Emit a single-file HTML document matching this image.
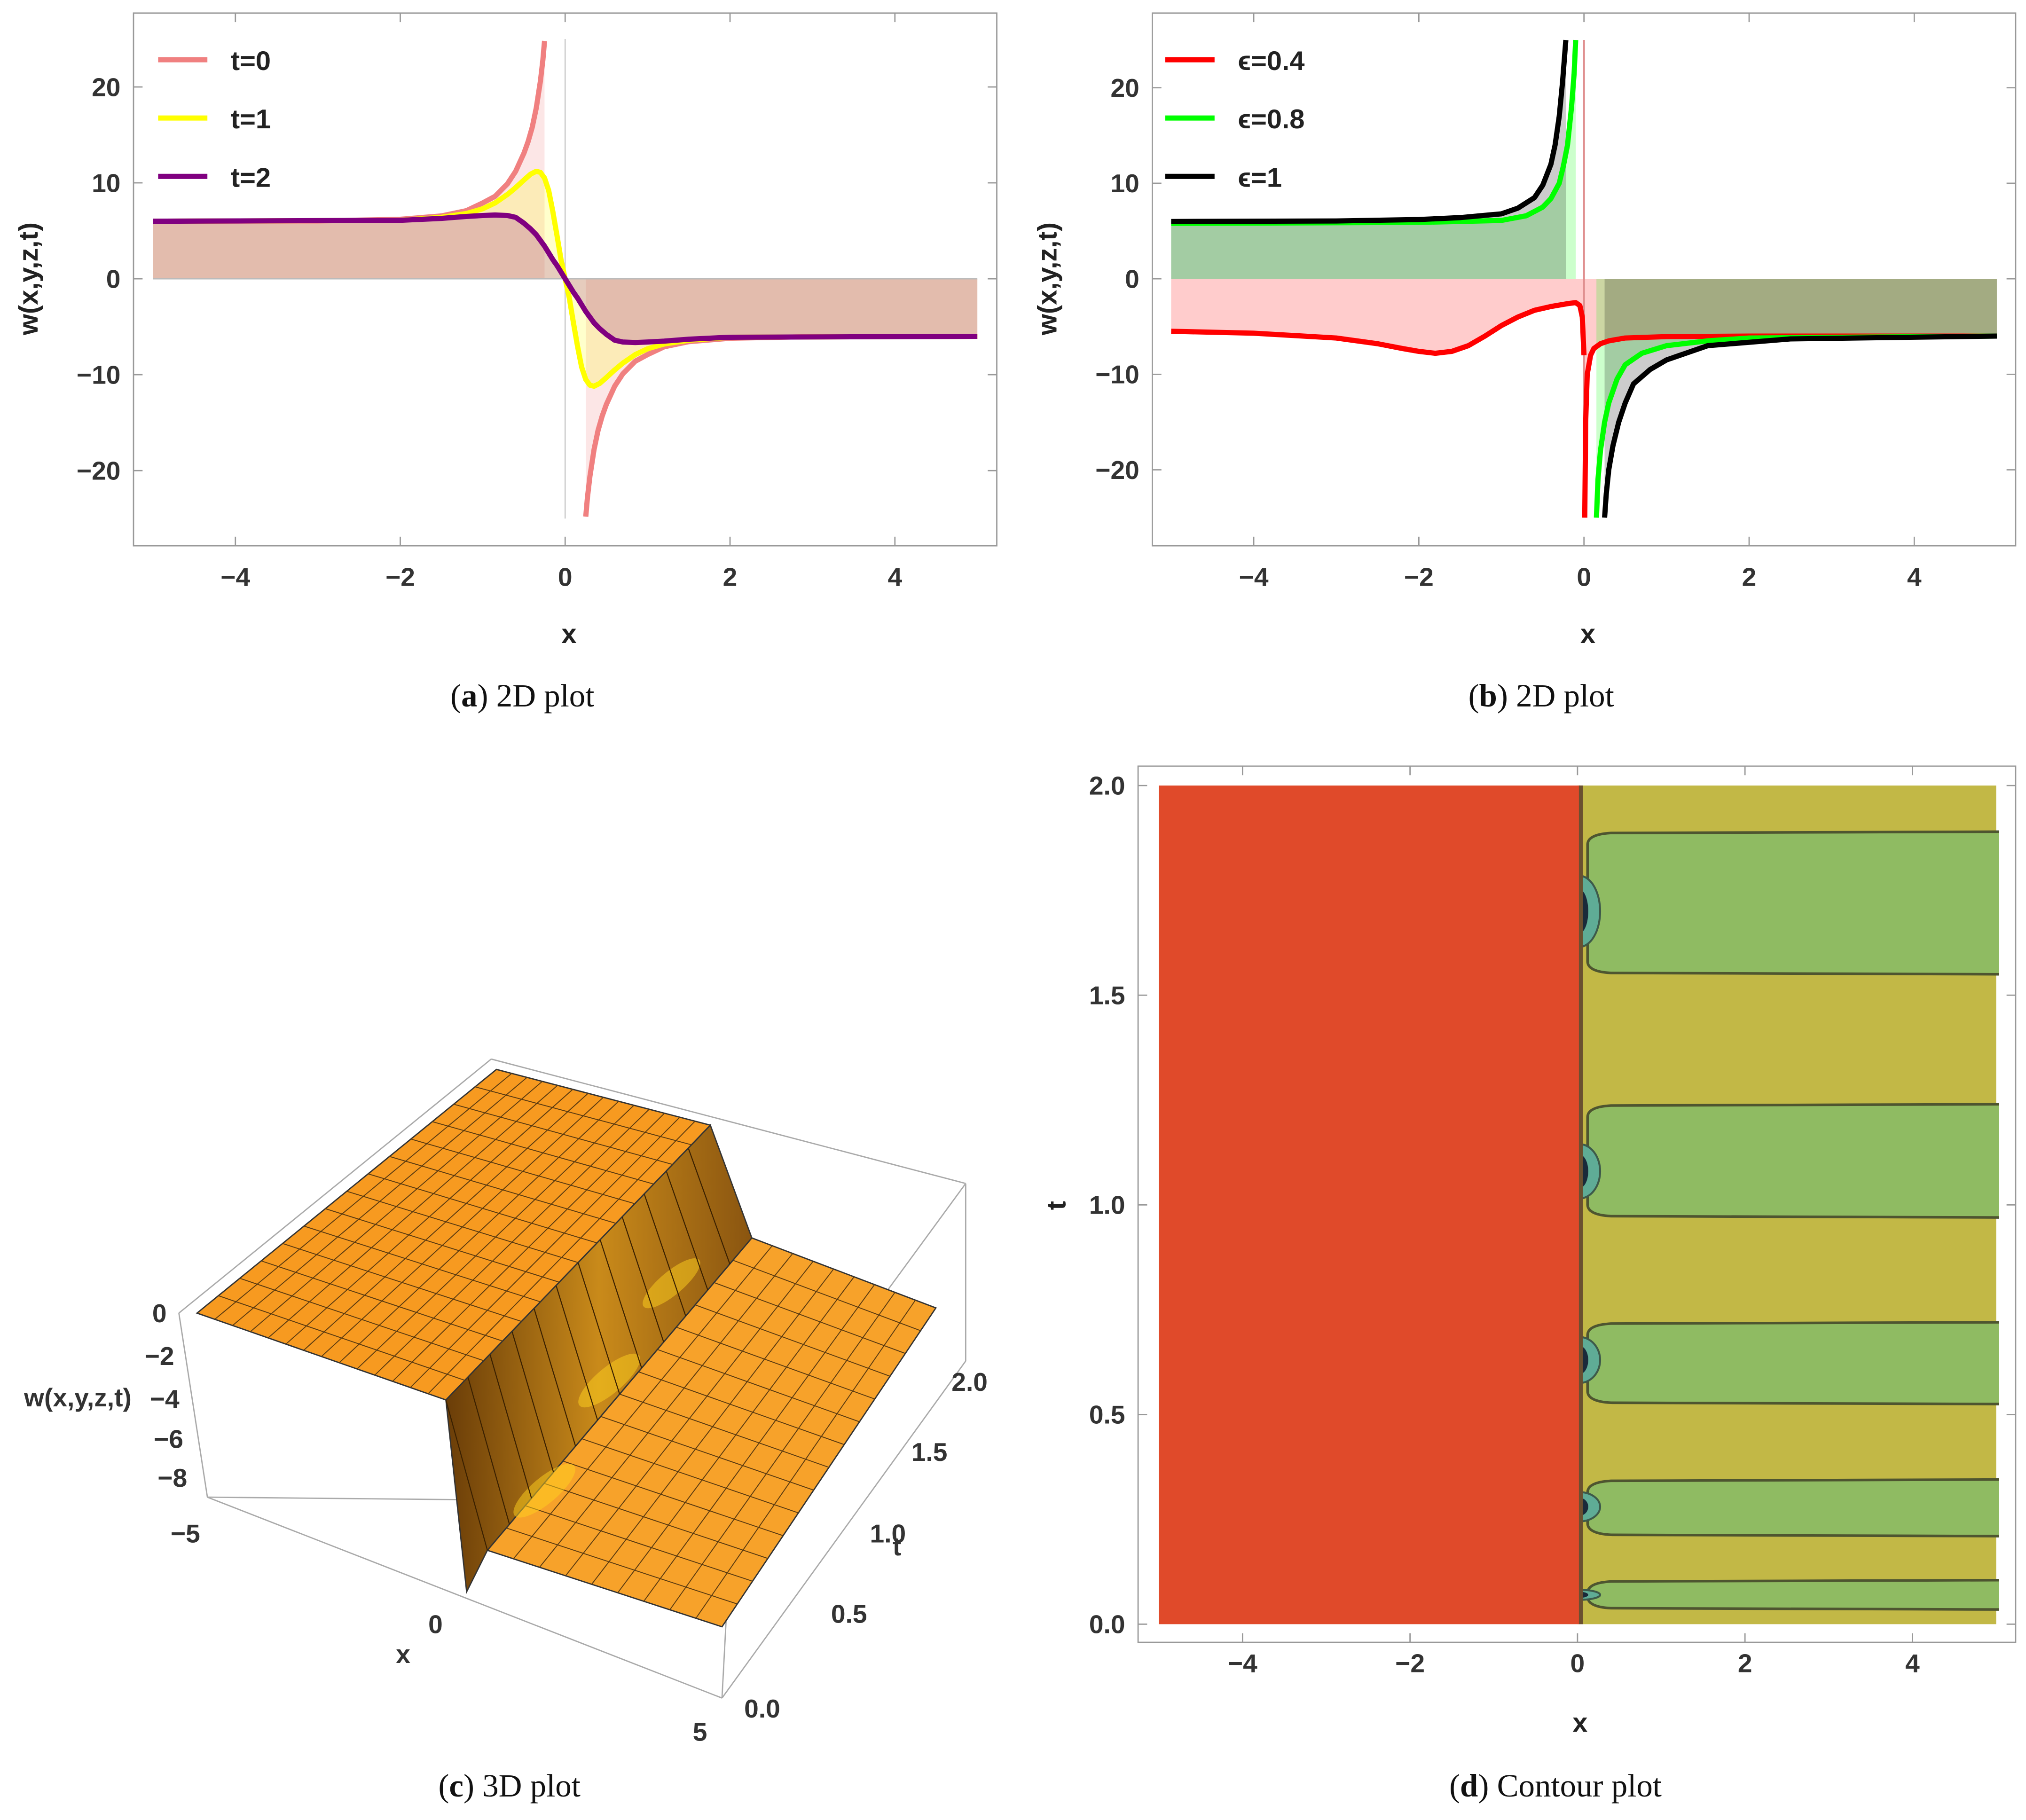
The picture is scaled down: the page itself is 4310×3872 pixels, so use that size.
<!DOCTYPE html>
<html><head><meta charset="utf-8"><style>
html,body{margin:0;padding:0;background:#fff}
svg{display:block}
text{font-family:"Liberation Sans",sans-serif}
.tk{font-size:20px;font-weight:bold;fill:#333}
.lab{font-size:21px;font-weight:bold;fill:#222}
.cap{font-family:"Liberation Serif",serif;font-size:25px;fill:#111}
</style></head><body>
<svg id="root" width="4310" height="3872" viewBox="0 0 1563 1404" xmlns="http://www.w3.org/2000/svg">
<g id="pa"></g>
<g id="pb"></g>
<g id="pc"></g>
<g id="pd"></g>
</svg>
<script>
// ---- Panel (a) data ----
const aXL=[-5,-3,-2,-1.5,-1.2,-1,-0.85,-0.7,-0.6,-0.5,-0.45,-0.4,-0.35,-0.3,-0.27,-0.25];
const aT0L=[6,6.03,6.2,6.55,7.1,7.9,8.6,9.9,11.2,13.1,14.3,15.8,17.8,20.6,22.8,24.8];
const aXR=[0.25,0.27,0.3,0.35,0.4,0.45,0.5,0.6,0.7,0.85,1,1.2,1.5,2,3,5];
const aT0R=[-24.8,-22.8,-20.6,-17.8,-15.8,-14.3,-13.1,-11.2,-9.9,-8.6,-7.9,-7.1,-6.55,-6.2,-6.03,-6];
const aX=[-5,-2,-1.5,-1.2,-1,-0.85,-0.7,-0.6,-0.5,-0.42,-0.35,-0.3,-0.25,-0.2,-0.15,-0.1,-0.05,0,0.05,0.1,0.15,0.2,0.25,0.3,0.35,0.42,0.5,0.6,0.7,0.85,1,1.2,1.5,2,5];
const aT1=[6,6.1,6.4,6.8,7.3,7.9,8.8,9.5,10.3,10.9,11.2,11.1,10.5,9.2,7,4.6,2,0,-2,-4.6,-7,-9.2,-10.5,-11.1,-11.2,-10.9,-10.3,-9.5,-8.8,-7.9,-7.3,-6.8,-6.4,-6.1,-6];
const aT2=[6,6.1,6.3,6.5,6.6,6.65,6.6,6.4,5.8,5.2,4.6,4.0,3.4,2.7,2,1.4,0.7,0,-0.7,-1.4,-2,-2.7,-3.4,-4.0,-4.6,-5.2,-5.8,-6.4,-6.6,-6.65,-6.6,-6.5,-6.3,-6.1,-6];
const aXTicks=[-4,-2,0,2,4];
const aYTicks=[-20,-10,0,10,20];
// ---- Panel (b) data ----
const bXBL=[-5,-3,-2,-1.5,-1,-0.8,-0.6,-0.5,-0.4,-0.35,-0.3,-0.26,-0.22];
const bBL=[6,6.05,6.2,6.4,6.8,7.4,8.5,9.8,12,14,17,20.5,25];
const bXBR=[0.25,0.27,0.3,0.35,0.42,0.5,0.6,0.8,1,1.5,2.5,5];
const bBR=[-25,-22.5,-20,-17.5,-15,-13,-11,-9.5,-8.5,-7,-6.3,-6];
const bXGL=[-5,-2,-1,-0.7,-0.5,-0.4,-0.3,-0.25,-0.2,-0.15,-0.12,-0.1];
const bGL=[5.8,5.9,6.1,6.6,7.5,8.4,10,11.8,14,18,21.5,25];
const bXGR=[0.15,0.17,0.2,0.25,0.3,0.4,0.5,0.7,1,1.5,2,5];
const bGR=[-25,-21,-18,-15,-13,-10.5,-9,-7.8,-7,-6.5,-6.2,-6];
const bXRL=[-5,-4,-3,-2.5,-2.2,-2,-1.8,-1.6,-1.4,-1.2,-1,-0.8,-0.6,-0.4,-0.2,-0.1,-0.05,-0.02,0];
const bRL=[-5.5,-5.7,-6.2,-6.8,-7.3,-7.6,-7.8,-7.6,-7,-6,-4.9,-4,-3.3,-2.9,-2.6,-2.5,-2.8,-4,-8];
const bXRR=[0.01,0.02,0.04,0.08,0.12,0.2,0.3,0.5,1,2,5];
const bRR=[-25,-15,-10,-8,-7.3,-6.8,-6.5,-6.2,-6.05,-6,-6];
// ---- Panel (d) data: green bands (t ranges) & blobs ----
const dBandLo=[1.55,0.97,0.525,0.21,0.035];
const dBandHi=[1.89,1.24,0.72,0.345,0.105];
const dBlobT=[1.7,1.08,0.63,0.28,0.07];
const dBlobR=[0.085,0.065,0.055,0.035,0.012];
const dXTicks=[-4,-2,0,2,4];
const dYTicks=[0,0.5,1,1.5,2];

const NS="http://www.w3.org/2000/svg";
function mk(parent,tag,attrs,txt){const e=document.createElementNS(NS,tag);for(const k in attrs)e.setAttribute(k,attrs[k]);if(txt!==undefined)e.textContent=txt;parent.appendChild(e);return e;}
function pts(xs,ys,sx,sy){return xs.map((x,i)=>sx(x).toFixed(1)+","+sy(ys[i]).toFixed(1)).join(" ");}

function panel2D(g,L,R,T,B,sx,sy,xt,yt,capLetter,capText){
  let f=mk(g,'rect',{x:L,y:T,width:R-L,height:B-T,fill:'none',stroke:'#999','stroke-width':1});
  
  xt.forEach(v=>{let x=sx(v);
    mk(g,'line',{x1:x,y1:B,x2:x,y2:B-7,stroke:'#999'});mk(g,'line',{x1:x,y1:T,x2:x,y2:T+7,stroke:'#999'});
    let t=mk(g,'text',{x:x,y:B+31,'text-anchor':'middle',class:'tk'},v<0?'\u2212'+(-v):String(v));
    });
  yt.forEach(v=>{let y=sy(v);
    mk(g,'line',{x1:L,y1:y,x2:L+7,y2:y,stroke:'#999'});mk(g,'line',{x1:R,y1:y,x2:R-7,y2:y,stroke:'#999'});
    let t=mk(g,'text',{x:L-10,y:y+7,'text-anchor':'end',class:'tk'},v<0?'\u2212'+(-v):String(v));
    });
  let xl=mk(g,'text',{x:(L+R)/2+3,y:B+75,'text-anchor':'middle',class:'lab'},'x');
  
  let yl=mk(g,'text',{x:0,y:0,'text-anchor':'middle',class:'lab',transform:`translate(${L-74},${sy(0)}) rotate(-90)`},'w(x,y,z,t)');
  
  let c=mk(g,'text',{x:(L+R)/2-33,y:B+124,'text-anchor':'middle',class:'cap'});
  
  mk(c,'tspan',{},'(');mk(c,'tspan',{'font-weight':'bold'},capLetter);mk(c,'tspan',{},') '+capText);
}
function series(g,xs,ys,sx,sy,color,name,fillOp){
  let fp=sx(xs[0]).toFixed(1)+","+sy(0)+" "+pts(xs,ys,sx,sy)+" "+sx(xs[xs.length-1]).toFixed(1)+","+sy(0);
  let f=mk(g,'polygon',{points:fp,fill:color,'fill-opacity':fillOp,stroke:'none'});
  
}
function line(g,xs,ys,sx,sy,color,name){
  let l=mk(g,'polyline',{points:pts(xs,ys,sx,sy),fill:'none',stroke:color,'stroke-width':4,'stroke-linejoin':'round'});
  
}
function legend(g,x,y,color,label,name){
  let lg=mk(g,'g',{});
  
  mk(lg,'line',{x1:x,y1:y,x2:x+38,y2:y,stroke:color,'stroke-width':4});
  mk(lg,'text',{x:x+56,y:y+8,class:'lab'},label);
}

// Panel a
(function(){
  const g=document.getElementById('pa');
  const sx=x=>436+x*63.6, sy=y=>215-y*7.4;
  series(g,aXL,aT0L,sx,sy,'#f08080','t0-left',0.2);
  series(g,aXR,aT0R,sx,sy,'#f08080','t0-right',0.2);
  series(g,aX,aT1,sx,sy,'#ffff00','t1',0.2);
  series(g,aX,aT2,sx,sy,'#800080','t2',0.2);
  mk(g,'line',{x1:sx(0),y1:sy(25),x2:sx(0),y2:sy(-25),stroke:'#ccc','stroke-width':1});
  mk(g,'line',{x1:sx(-5),y1:sy(0),x2:sx(5),y2:sy(0),stroke:'#bbb','stroke-width':1});
  line(g,aXL,aT0L,sx,sy,'#f08080','line-t0-left');
  line(g,aXR,aT0R,sx,sy,'#f08080','line-t0-right');
  line(g,aX,aT1,sx,sy,'#ffff00','line-t1');
  line(g,aX,aT2,sx,sy,'#800080','line-t2');
  panel2D(g,103,769,10,421,sx,sy,aXTicks,aYTicks,'a','2D plot');
  legend(g,122,46,'#f08080','t=0','legend-t0');
  legend(g,122,91,'#ffff00','t=1','legend-t1');
  legend(g,122,136,'#800080','t=2','legend-t2');
})();

// Panel b
(function(){
  const g=document.getElementById('pb');
  const sx=x=>1222+x*63.7, sy=y=>215-y*7.37;
  series(g,bXRL,bRL,sx,sy,'#ff0000','eps04-left',0.2);
  series(g,bXRR,bRR,sx,sy,'#ff0000','eps04-right',0.2);
  series(g,bXGL,bGL,sx,sy,'#00ff00','eps08-left',0.2);
  series(g,bXGR,bGR,sx,sy,'#00ff00','eps08-right',0.2);
  series(g,bXBL,bBL,sx,sy,'#000000','eps1-left',0.2);
  series(g,bXBR,bBR,sx,sy,'#000000','eps1-right',0.2);
  mk(g,'line',{x1:sx(0),y1:sy(25),x2:sx(0),y2:sy(-25),stroke:'#e09090','stroke-width':1.5});
  line(g,bXRL,bRL,sx,sy,'#ff0000','line-eps04-left');
  line(g,bXRR,bRR,sx,sy,'#ff0000','line-eps04-right');
  line(g,bXGL,bGL,sx,sy,'#00ff00','line-eps08-left');
  line(g,bXGR,bGR,sx,sy,'#00ff00','line-eps08-right');
  line(g,bXBL,bBL,sx,sy,'#000000','line-eps1-left');
  line(g,bXBR,bBR,sx,sy,'#000000','line-eps1-right');
  panel2D(g,889,1555,10,421,sx,sy,aXTicks,aYTicks,'b','2D plot');
  legend(g,899,46,'#ff0000','\u03f5=0.4','legend-eps04');
  legend(g,899,91,'#00ff00','\u03f5=0.8','legend-eps08');
  legend(g,899,136,'#000000','\u03f5=1','legend-eps1');
})();

// Panel d
(function(){
  const g=document.getElementById('pd');
  const sx=x=>1217+x*64.6, sy=t=>1253-t*323.5;
  mk(g,'rect',{x:878,y:591,width:677,height:676,fill:'none',stroke:'#999'});
  let bg=mk(g,'rect',{x:sx(0),y:sy(2),width:sx(5)-sx(0),height:sy(0)-sy(2),fill:'#c2b846'});
  
  dBandLo.forEach((lo,i)=>{
    const hi=dBandHi[i];
    let r=mk(g,'path',{d:`M${sx(5)+2},${sy(hi)} L${sx(0.4)},${sy(hi)+1} Q${sx(0.12)},${sy(hi)+2} ${sx(0.12)},${sy(hi)+10} L${sx(0.12)},${sy(lo)-10} Q${sx(0.12)},${sy(lo)-2} ${sx(0.4)},${sy(lo)-1} L${sx(5)+2},${sy(lo)}`,fill:'#8fbb62',stroke:'#4e5530','stroke-width':2});
    
  });
  dBlobT.forEach((t,i)=>{
    let e=mk(g,'ellipse',{cx:sx(0.02),cy:sy(t),rx:sx(0.25)-sx(0),ry:dBlobR[i]*323.5,fill:'#5fac96',stroke:'#3d5a4a','stroke-width':1.5});
    
    mk(g,'ellipse',{cx:sx(0.02),cy:sy(t),rx:7,ry:dBlobR[i]*200,fill:'#1a2a3a'});
  });
  let red=mk(g,'rect',{x:sx(-5),y:sy(2),width:sx(0.03)-sx(-5),height:sy(0)-sy(2),fill:'#e04a2a'});
  
  mk(g,'line',{x1:sx(0.04),y1:sy(2),x2:sx(0.04),y2:sy(0),stroke:'#6a5030','stroke-width':3});
  dXTicks.forEach(v=>{let x=sx(v);
    mk(g,'line',{x1:x,y1:1267,x2:x,y2:1260,stroke:'#999'});mk(g,'line',{x1:x,y1:591,x2:x,y2:598,stroke:'#999'});
    let t=mk(g,'text',{x:x,y:1290,'text-anchor':'middle',class:'tk'},v<0?'\u2212'+(-v):String(v));
    });
  dYTicks.forEach(v=>{let y=sy(v);
    mk(g,'line',{x1:878,y1:y,x2:885,y2:y,stroke:'#999'});mk(g,'line',{x1:1555,y1:y,x2:1548,y2:y,stroke:'#999'});
    let t=mk(g,'text',{x:868,y:y+7,'text-anchor':'end',class:'tk'},v.toFixed(1));
    });
  let xl=mk(g,'text',{x:1219,y:1336,'text-anchor':'middle',class:'lab'},'x');
  
  let yl=mk(g,'text',{x:0,y:0,'text-anchor':'middle',class:'lab',transform:'translate(822,930) rotate(-90)'},'t');
  
  let c=mk(g,'text',{x:1200,y:1386,'text-anchor':'middle',class:'cap'});
  
  mk(c,'tspan',{},'(');mk(c,'tspan',{'font-weight':'bold'},'d');mk(c,'tspan',{},') Contour plot');
})();

// Panel c (3D surface, drawn schematically)
(function(){
  const g=document.getElementById('pc');
  const defs=mk(g,'defs',{});
  const gr=mk(defs,'linearGradient',{id:'cliff',x1:0,y1:0,x2:1,y2:0});
  mk(gr,'stop',{offset:0,'stop-color':'#6a3d08'});mk(gr,'stop',{offset:0.5,'stop-color':'#c98a1a'});mk(gr,'stop',{offset:1,'stop-color':'#8a5510'});
  const box=(a,b)=>mk(g,'line',{x1:a[0],y1:a[1],x2:b[0],y2:b[1],stroke:'#aaa','stroke-width':1});
  box([160,1155],[565,1159]);box([565,1159],[745,913]);box([565,1159],[557,1310]);
  box([138,1013],[160,1155]);box([160,1155],[557,1310]);box([557,1310],[745,1050]);box([745,913],[745,1050]);
  box([138,1013],[379,817]);box([379,817],[745,913]);
  const bil=(P,u,v)=>[P[0][0]*(1-u)*(1-v)+P[1][0]*u*(1-v)+P[2][0]*u*v+P[3][0]*(1-u)*v, P[0][1]*(1-u)*(1-v)+P[1][1]*u*(1-v)+P[2][1]*u*v+P[3][1]*(1-u)*v];
  function surf(P,fill,nu,nv,name){
    let p=mk(g,'polygon',{points:P.map(q=>q.join(',')).join(' '),fill:fill,stroke:'#333','stroke-width':1});
    
    for(let i=1;i<nu;i++){let a=bil(P,i/nu,0),b=bil(P,i/nu,1);mk(g,'line',{x1:a[0],y1:a[1],x2:b[0],y2:b[1],stroke:'#5a3a10','stroke-width':0.7});}
    for(let j=1;j<nv;j++){let a=bil(P,0,j/nv),b=bil(P,1,j/nv);mk(g,'line',{x1:a[0],y1:a[1],x2:b[0],y2:b[1],stroke:'#5a3a10','stroke-width':0.7});}
  }
  surf([[376,1196],[557,1255],[722,1009],[580,955]],'#f7a22a',9,14,'surface-lower');
  let cf=mk(g,'polygon',{points:'344,1080 548,868 580,955 376,1196 360,1228',fill:'url(#cliff)',stroke:'#333','stroke-width':1});
  
  [[420,1150,30,10],[470,1065,30,10],[518,990,28,9]].forEach(e=>{mk(g,'ellipse',{cx:e[0],cy:e[1],rx:e[2],ry:e[3],fill:'#ffd21e','fill-opacity':0.5,transform:`rotate(-40 ${e[0]} ${e[1]})`});});
  for(let k=0;k<12;k++){let Q=[[344,1080],[548,868],[580,955],[376,1196]];let a=bil(Q,k/12,0),b=bil(Q,k/12,1);mk(g,'line',{x1:a[0],y1:a[1],x2:b[0],y2:b[1],stroke:'#3a2000','stroke-width':0.8});}
  surf([[152,1013],[383,825],[548,868],[344,1080]],'#f79a20',14,14,'surface-plateau');
  const T=(x,y,s,name)=>{let t=mk(g,'text',{x:x,y:y,'text-anchor':'middle',class:'tk'},s);};
  [['0',123,1020],['\u22122',123,1053],['\u22124',127,1086],['\u22126',130,1117],['\u22128',133,1147]].forEach(a=>T(a[1],a[2],a[0],'z-tick-label'));
  T(60,1085,'w(x,y,z,t)','z-axis-title');
  [['\u22125',143,1190],['0',336,1260],['5',540,1343]].forEach(a=>T(a[1],a[2],a[0],'x-tick-label'));
  T(311,1283,'x','x-axis-title');
  [['2.0',748,1073],['1.5',717,1127],['1.0',685,1190],['0.5',655,1252],['0.0',588,1325]].forEach(a=>T(a[1],a[2],a[0],'t-tick-label'));
  T(692,1200,'t','t-axis-title');
  let c=mk(g,'text',{x:393,y:1386,'text-anchor':'middle',class:'cap'});
  
  mk(c,'tspan',{},'(');mk(c,'tspan',{'font-weight':'bold'},'c');mk(c,'tspan',{},') 3D plot');
})();
</script>
</body></html>
